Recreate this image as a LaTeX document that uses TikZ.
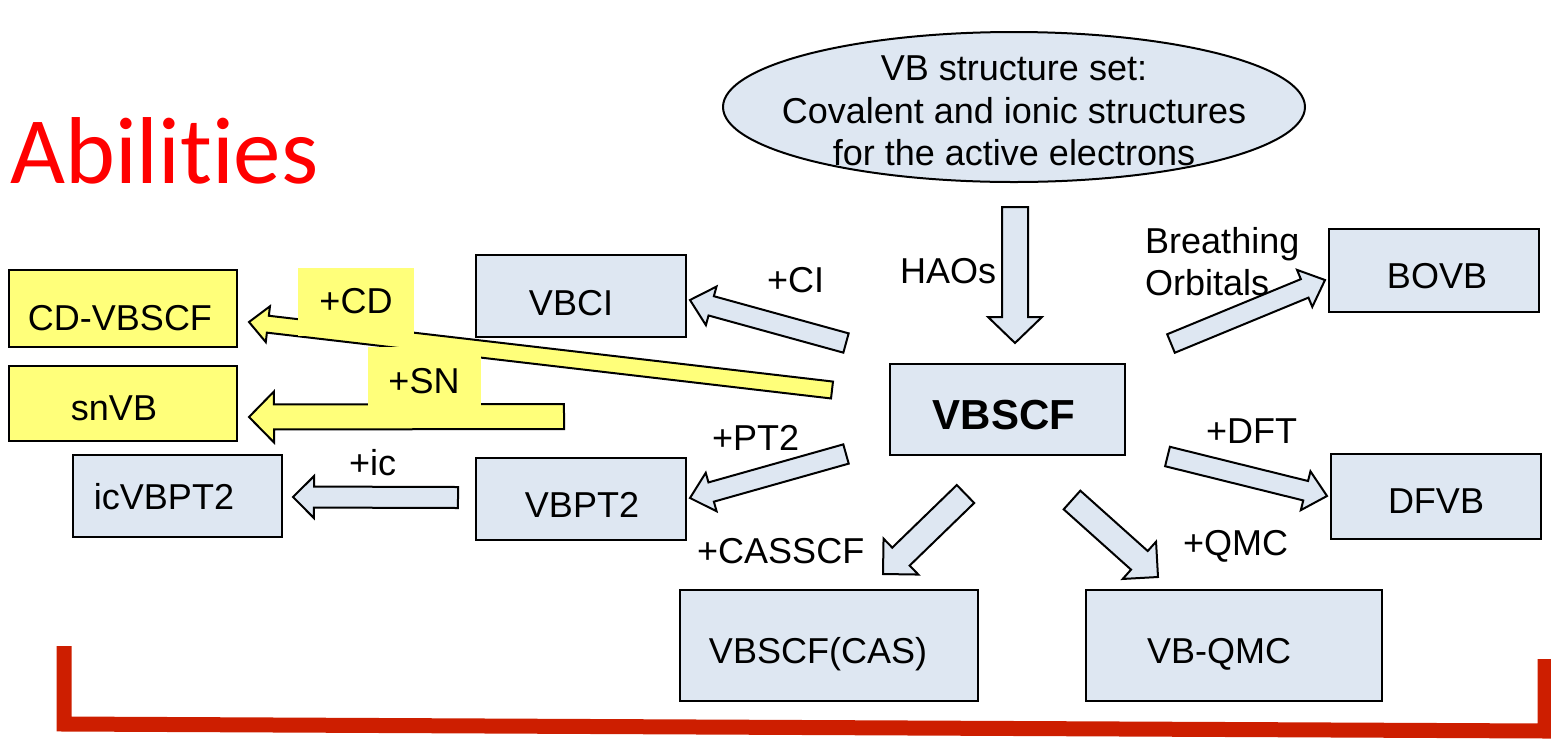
\documentclass[tikz,border=0pt]{standalone}
\usepackage{fontspec}
\setmainfont{Liberation Sans}
\newfontfamily\calibfont[Ligatures=NoCommon]{Carlito}
\usetikzlibrary{calc,shapes.geometric}
\definecolor{boxblue}{RGB}{222,231,242}
\definecolor{hiyel}{RGB}{255,255,122}
\definecolor{titlered}{RGB}{255,0,0}
\definecolor{brred}{RGB}{205,30,0}
% block arrow: #1 tail, #2 tip, #3 half shaft, #4 half head, #5 head length, #6 style
\newcommand\blockarr[6]{%
  \coordinate (hb) at ($(#2)!#5pt!(#1)$);
  \draw[#6] ($(#1)!#3pt!90:(#2)$) -- ($(hb)!#3pt!90:(#2)$) -- ($(hb)!#4pt!90:(#2)$) -- (#2)
    -- ($(hb)!#4pt!-90:(#2)$) -- ($(hb)!#3pt!-90:(#2)$) -- ($(#1)!#3pt!-90:(#2)$) -- cycle;
}
\begin{document}
\begin{tikzpicture}[x=1pt,y=-1pt,
  box/.style={draw=black, line width=2pt, fill=boxblue, rectangle, inner sep=0pt},
  ybox/.style={box, fill=hiyel},
  txt/.style={inner sep=0pt, anchor=base, font=\fontsize{36}{43}\selectfont},
  lbl/.style={txt, anchor=base west},
  barr/.style={draw=black, line width=2pt, fill=boxblue, line join=miter},
  yarr/.style={barr, fill=hiyel}]
\useasboundingbox (0,0) rectangle (1551,740);

% title
\node[inner sep=0pt, anchor=base west, text=titlered, font=\calibfont\fontsize{95}{100}\selectfont] (title) at (10,183) {Abilities};

% ellipse
\node[ellipse, draw=black, line width=2pt, fill=boxblue, minimum width=582pt, minimum height=150pt, inner sep=0pt] (vbset) at (1014,107) {};
\node[txt] (vbsetA) at (1014,80) {VB structure set:};
\node[txt] (vbsetB) at (1014,123) {Covalent and ionic structures};
\node[txt] (vbsetC) at (1014,165) {for the active electrons};

% boxes
\node[ybox, minimum width=228pt, minimum height=77pt] (cdvbscf) at (123,308.5) {};
\node[ybox, minimum width=228pt, minimum height=75pt] (snvb) at (123,403.5) {};
\node[box, minimum width=209pt, minimum height=82pt] (icvbpt2) at (177.5,496) {};
\node[box, minimum width=210pt, minimum height=82pt] (vbci) at (581,296) {};
\node[box, minimum width=210pt, minimum height=82pt] (vbpt2) at (581,499) {};
\node[box, minimum width=235pt, minimum height=91pt] (vbscf) at (1007.5,409.5) {};
\node[box, minimum width=210pt, minimum height=83pt] (bovb) at (1434,270.5) {};
\node[box, minimum width=210pt, minimum height=85pt] (dfvb) at (1436,496.5) {};
\node[box, minimum width=298pt, minimum height=111pt] (vbscfcas) at (829,645.5) {};
\node[box, minimum width=296pt, minimum height=111pt] (vbqmc) at (1234,645.5) {};

\node[txt] (cdvbscfT) at (120,330) {CD-VBSCF};
\node[txt] (snvbT) at (114,420) {snVB};
\node[txt] (icvbpt2T) at (164,509) {icVBPT2};
\node[txt] (vbciT) at (571,315) {VBCI};
\node[txt] (vbpt2T) at (582,517) {VBPT2};
\node[txt, font=\fontsize{42}{50}\selectfont\bfseries] (vbscfT) at (1004,429) {VBSCF};
\node[txt] (bovbT) at (1437,288) {BOVB};
\node[txt] (dfvbT) at (1436,513) {DFVB};
\node[txt] (vbscfcasT) at (818,663) {VBSCF(CAS)};
\node[txt] (vbqmcT) at (1219,663) {VB-QMC};

% arrow ends
\coordinate (haosA) at (1015,207);   \coordinate (haosB) at (1015,343);
\coordinate (ciA) at (846,343);      \coordinate (ciB) at (690,300);
\coordinate (ptA) at (846,454);      \coordinate (ptB) at (690,498);
\coordinate (boA) at (1171,343.5);   \coordinate (boB) at (1325,280);
\coordinate (dftA) at (1167.5,456.5);\coordinate (dftB) at (1327,496);
\coordinate (casA) at (965.5,494);   \coordinate (casB) at (883,574);
\coordinate (qmcA) at (1072,500);    \coordinate (qmcB) at (1158,577);
\coordinate (icA) at (458,497.5);    \coordinate (icB) at (293,497);
\coordinate (cdA) at (832,390);      \coordinate (cdB) at (249,322);
\coordinate (snA) at (564,416.5);    \coordinate (snB) at (249,417);

\blockarr{haosA}{haosB}{13}{27}{26}{barr}
\blockarr{ciA}{ciB}{10}{20}{22}{barr}
\blockarr{ptA}{ptB}{10}{20}{22}{barr}
\blockarr{boA}{boB}{10}{20}{22}{barr}
\blockarr{dftA}{dftB}{10}{20}{22}{barr}
\blockarr{casA}{casB}{12.5}{25}{25}{barr}
\blockarr{qmcA}{qmcB}{12.5}{25}{25}{barr}
\blockarr{icA}{icB}{10.5}{21}{21}{barr}
\blockarr{cdA}{cdB}{8.5}{18}{19}{yarr}
\blockarr{snA}{snB}{12.5}{25.5}{25}{yarr}

% yellow label boxes
\node[fill=hiyel, inner sep=0pt, minimum width=116pt, minimum height=68pt] (cdlab) at (356,302) {};
\node[txt] (cdlabT) at (356,313) {+CD};
\node[fill=hiyel, inner sep=0pt, minimum width=113pt, minimum height=61pt] (snlab) at (424.5,377.5) {};
\node[txt] (snlabT) at (424,393) {+SN};

% labels
\node[lbl] (ciL) at (767,292) {+CI};
\node[lbl] (ptL) at (712,450) {+PT2};
\node[lbl] (haosL) at (900,283) {HAOs};
\node[lbl] (boL1) at (1145,253) {Breathing};
\node[lbl] (boL2) at (1145,295) {Orbitals};
\node[lbl] (dftL) at (1206,443) {+DFT};
\node[lbl] (casL) at (697,563) {+CASSCF};
\node[lbl] (qmcL) at (1183,555) {+QMC};
\node[lbl] (icL) at (349,475) {+ic};

% red bracket
\coordinate (brA) at (64,646);
\coordinate (brB) at (64,724);
\coordinate (brC) at (1545,731);
\coordinate (brD) at (1545,659);
\draw[line width=15pt, brred, line join=miter] (brA) -- (brB) -- (brC) -- (brD);
\end{tikzpicture}
\end{document}
